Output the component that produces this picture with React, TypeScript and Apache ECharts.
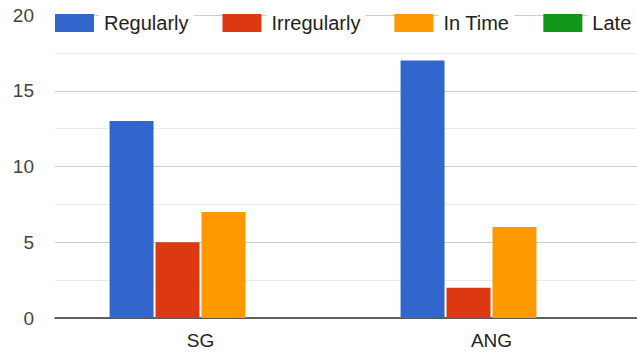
import React, { useEffect, useRef } from "react";
import * as echarts from "echarts";

const categories = ["SG", "ANG"];
const seriesNames = ["Regularly", "Irregularly", "In Time", "Late"];
const regularly = [13, 17];
const irregularly = [5, 2];
const inTime = [7, 6];
const late = [0, 0];
const colors = ["#3366cc", "#dc3912", "#ff9900", "#109618"];

export default function App() {
  const ref = useRef<HTMLDivElement>(null);
  useEffect(() => {
    const chart = echarts.init(ref.current!, undefined, { renderer: "svg" });
    const values = [regularly, irregularly, inTime, late];
    chart.setOption({
      animation: false,
      textStyle: { fontFamily: "Arial, 'Liberation Sans', sans-serif" },
      grid: { left: 55, right: 0, top: 15, bottom: 40 },
      legend: {
        left: 55,
        top: 12,
        padding: 0,
        itemWidth: 39,
        itemHeight: 18,
        itemGap: 29,
        icon: "rect",
        textStyle: { fontSize: 20, color: "#222", backgroundColor: "#fff", padding: [1, 5, 1, 5] },
        data: seriesNames,
      },
      xAxis: {
        type: "category",
        data: categories,
        axisTick: { show: false },
        axisLine: { lineStyle: { color: "#333", width: 1.5 } },
        axisLabel: { fontSize: 19, color: "#222", margin: 13 },
      },
      yAxis: {
        type: "value",
        min: 0,
        max: 20,
        interval: 5,
        axisLine: { show: false },
        axisTick: { show: false },
        axisLabel: { fontSize: 19, color: "#444", margin: 21 },
        splitLine: { lineStyle: { color: "#cccccc", width: 1 } },
        minorTick: { show: false, splitNumber: 2 },
        minorSplitLine: { show: true, lineStyle: { color: "#ebebeb", width: 1 } },
      },
      series: seriesNames.map((name, i) => ({
        name,
        type: "bar",
        data: values[i],
        barGap: "4.5%",
        barCategoryGap: "37.5%",
        itemStyle: { color: colors[i] },
      })),
    });
    return () => chart.dispose();
  }, []);
  return <div ref={ref} style={{ width: 637, height: 358, position: "absolute", left: 0, top: 0 }} />;
}
